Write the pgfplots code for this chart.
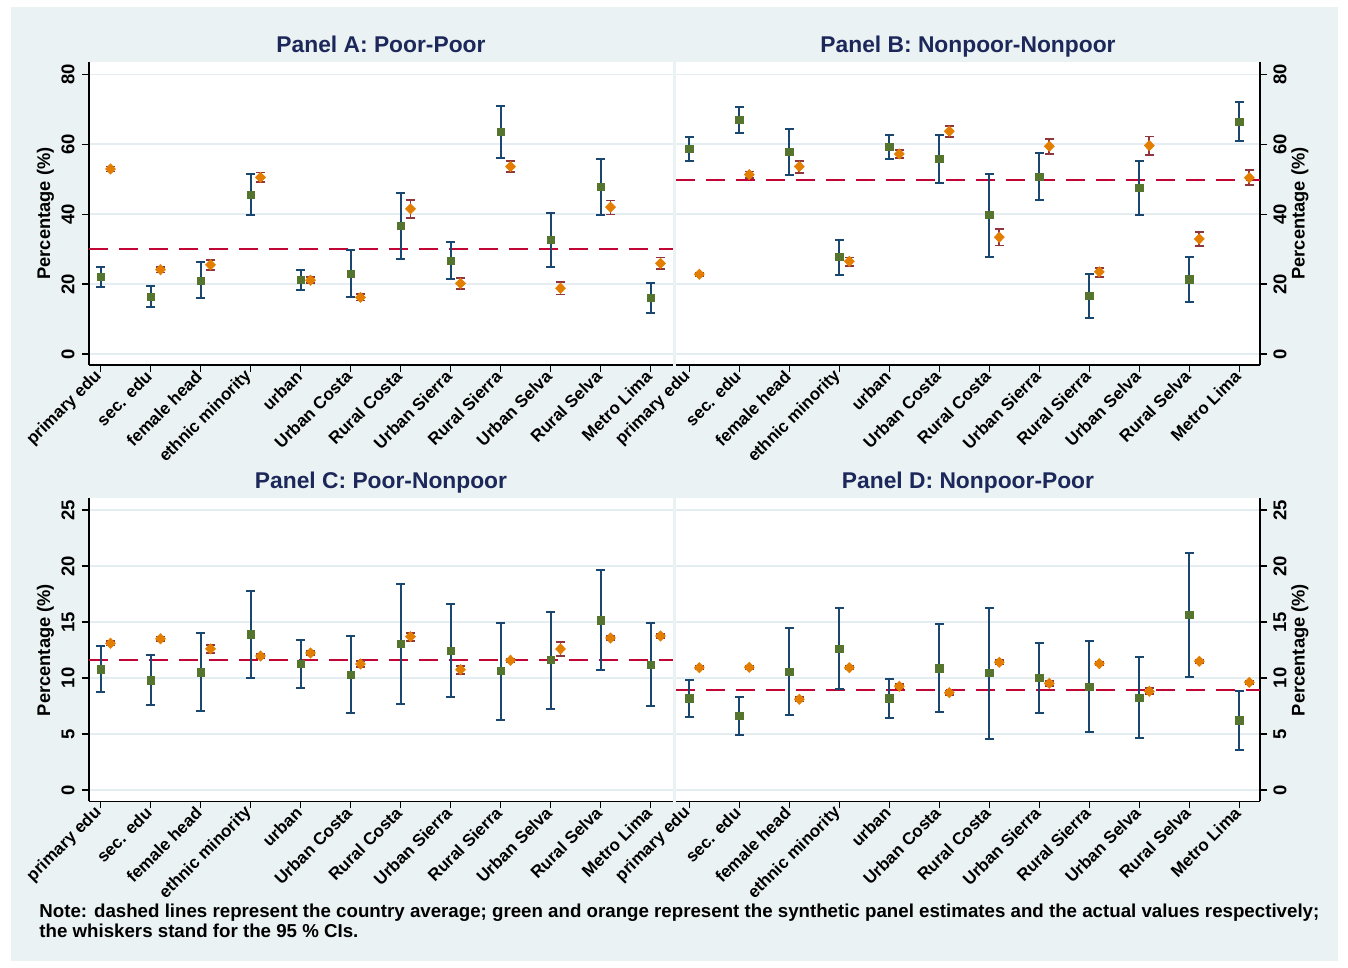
\documentclass[border=0pt]{standalone}
\usepackage{fontspec}
\setmainfont{Liberation Sans}
\usepackage{pgfplots}
\pgfplotsset{compat=1.18}
\usepackage{pgfplotstable}
\definecolor{bgc}{RGB}{234,242,243}
\definecolor{gridc}{RGB}{228,237,241}
\definecolor{navyc}{RGB}{26,71,111}
\definecolor{maroonc}{RGB}{144,53,59}
\definecolor{greenc}{RGB}{85,117,47}
\definecolor{orangec}{RGB}{227,126,0}
\definecolor{cranc}{RGB}{193,5,52}
\definecolor{titc}{RGB}{28,40,90}

\pgfplotstableread{
x gy ghi glo oy ohi olo
0 22.1 25.0 19.2 52.9 53.6 52.2
1 16.4 19.3 13.5 24.1 24.9 23.3
2 21.0 26.2 15.9 25.5 26.9 24.0
3 45.6 51.5 39.8 50.5 51.9 49.2
4 21.1 24.1 18.3 21.1 21.9 20.3
5 22.9 29.6 16.3 16.2 17.1 15.3
6 36.7 46.1 27.3 41.5 44.1 38.9
7 26.6 32.0 21.4 20.2 21.8 18.5
8 63.6 70.9 56.1 53.6 55.1 52.0
9 32.6 40.3 24.9 18.8 20.6 17.0
10 47.8 55.8 39.8 42.0 43.9 39.9
11 16.0 20.2 11.8 25.9 27.6 24.2
}\tabA
\pgfplotstableread{
x gy ghi glo oy ohi olo
0 58.7 62.1 55.3 22.8 23.3 22.3
1 67.0 70.7 63.3 51.3 52.2 50.4
2 57.8 64.3 51.3 53.6 55.3 51.8
3 27.7 32.6 22.7 26.5 27.6 25.2
4 59.3 62.7 55.8 57.2 58.4 56.0
5 55.8 62.5 49.0 63.7 65.3 62.0
6 39.7 51.6 27.7 33.4 35.8 31.0
7 50.7 57.5 44.0 59.4 61.4 57.3
8 16.6 23.0 10.2 23.5 24.7 22.0
9 47.4 55.1 39.8 59.6 62.2 57.0
10 21.3 27.6 15.0 32.9 34.8 30.9
11 66.4 72.0 60.9 50.4 52.7 48.4
}\tabB
\pgfplotstableread{
x gy ghi glo oy ohi olo
0 10.77 12.83 8.78 13.10 13.30 12.90
1 9.79 12.05 7.56 13.50 13.70 13.30
2 10.50 14.00 7.02 12.60 12.98 12.23
3 13.90 17.80 10.03 11.96 12.11 11.81
4 11.25 13.42 9.10 12.23 12.43 12.03
5 10.27 13.72 6.90 11.25 11.50 11.00
6 13.04 18.40 7.68 13.69 14.05 13.30
7 12.44 16.60 8.27 10.74 11.10 10.39
8 10.60 14.90 6.28 11.58 11.73 11.43
9 11.58 15.92 7.23 12.59 13.24 11.93
10 15.15 19.64 10.71 13.57 13.77 13.37
11 11.19 14.90 7.50 13.75 13.95 13.55
}\tabC
\pgfplotstableread{
x gy ghi glo oy ohi olo
0 8.18 9.85 6.52 10.92 11.07 10.77
1 6.61 8.30 4.94 10.95 11.10 10.80
2 10.57 14.49 6.67 8.10 8.30 7.90
3 12.62 16.22 8.99 10.92 11.07 10.77
4 8.18 9.94 6.46 9.26 9.46 9.06
5 10.86 14.85 6.93 8.69 8.89 8.49
6 10.42 16.28 4.58 11.40 11.60 11.20
7 10.00 13.15 6.85 9.52 9.72 9.32
8 9.20 13.27 5.21 11.28 11.43 11.13
9 8.24 11.85 4.64 8.81 9.08 8.54
10 15.60 21.13 10.09 11.49 11.64 11.34
11 6.22 8.84 3.60 9.61 9.76 9.46
}\tabD

\pgfplotsset{
 base/.style={
   scale only axis, width=292pt, height=151.5pt,
   axis background/.style={fill=white},
   axis x line*=bottom,
   axis line style={black, line width=0.6pt},
   tick align=outside, major tick length=3.5pt,
   tick style={black, line width=0.6pt},
   xtick={0,...,11},
   xticklabels={primary edu, sec. edu, female head, ethnic minority, urban, Urban Costa, Rural Costa, Urban Sierra, Rural Sierra, Urban Selva, Rural Selva, Metro Lima},
   xticklabel style={rotate=45, anchor=east, inner sep=1pt, font=\fontsize{8.5}{10}\selectfont\bfseries},
   ymajorgrids, grid style={gridc, line width=0.7pt},
   /pgf/number format/assume math mode=true,
   ylabel={Percentage (\%)},
   ylabel style={font=\fontsize{9.15}{10}\selectfont\bfseries, anchor=center},
   every axis title shift=0pt,
   title style={at={(0.5,1)}, anchor=base, yshift=4.85pt, font=\fontsize{11.4}{14}\selectfont\bfseries, text=titc},
   clip=false,
 },
 leftp/.style={base, xmin=-0.23, xmax=11.45, axis y line*=left,
   yticklabel style={rotate=90, anchor=south, inner sep=1pt, font=\fontsize{9.25}{10}\selectfont\bfseries},
   yticklabel shift=2.5pt,
   ylabel style={at={(axis description cs:-0.0745,0.5)}}},
 rightp/.style={base, xmin=-0.266, xmax=11.414, axis y line*=right,
   yticklabel style={rotate=90, anchor=north, inner sep=1pt, font=\fontsize{9.25}{10}\selectfont\bfseries},
   yticklabel shift=2pt,
   ylabel style={at={(axis description cs:1.0685,0.5)}}},
 toprow/.style={ymin=-3.15, ymax=83.5, ytick={0,20,40,60,80}},
 botrow/.style={ymin=-1.03, ymax=26.03, ytick={0,5,10,15,20,25}},
 avgline/.style={cranc, line width=1pt, dash pattern=on 9.5pt off 5.5pt, forget plot},
 gci/.style={forget plot, draw=none, error bars/.cd, y dir=both, y explicit,
   error bar style={draw=navyc, line width=1pt, solid},
   error mark options={rotate=90, draw=navyc, line width=1pt, mark size=2.2pt}},
 oci/.style={forget plot, draw=none, error bars/.cd, y dir=both, y explicit,
   error bar style={draw=maroonc, line width=0.9pt, solid},
   error mark options={rotate=90, draw=maroonc, line width=0.9pt, mark size=2.2pt}},
 gmark/.style={only marks, mark=square*, mark size=1.8pt, mark options={fill=greenc, draw=greenc}},
 omark/.style={only marks, mark=diamond*, mark size=2.5pt, mark options={fill=orangec, draw=orangec, xscale=1.3}},
}

\newcommand{\panelplots}[1]{%
 \addplot[gci] table[x=x, y=gy, y error plus expr=\thisrow{ghi}-\thisrow{gy}, y error minus expr=\thisrow{gy}-\thisrow{glo}] {#1};
 \addplot[gmark] table[x=x, y=gy] {#1};
 \addplot[oci] table[x expr=\thisrow{x}+0.2, y=oy, y error plus expr=\thisrow{ohi}-\thisrow{oy}, y error minus expr=\thisrow{oy}-\thisrow{olo}] {#1};
 \addplot[omark] table[x expr=\thisrow{x}+0.2, y=oy] {#1};
}

\begin{document}
\bfseries
\begin{tikzpicture}
\useasboundingbox (0,0) rectangle (674pt,484pt);
\fill[white] (0,0) rectangle (674pt,484pt);
\fill[bgc] (5.5pt,3.5pt) rectangle (669pt,480.5pt);

\begin{axis}[leftp, toprow, at={(44.5pt,301.5pt)}, anchor=south west, title={Panel A: Poor-Poor}]
 \addplot[avgline] coordinates {(-0.23,30) (11.45,30)};
 \panelplots{\tabA}
\end{axis}

\begin{axis}[rightp, toprow, at={(338pt,301.5pt)}, anchor=south west, title={Panel B: Nonpoor-Nonpoor}]
 \addplot[avgline] coordinates {(-0.266,49.8) (11.414,49.8)};
 \panelplots{\tabB}
\end{axis}

\begin{axis}[leftp, botrow, at={(44.5pt,83.25pt)}, anchor=south west, title={Panel C: Poor-Nonpoor}]
 \addplot[avgline] coordinates {(-0.23,11.6) (11.45,11.6)};
 \panelplots{\tabC}
\end{axis}

\begin{axis}[rightp, botrow, at={(338pt,83.25pt)}, anchor=south west, title={Panel D: Nonpoor-Poor}]
 \addplot[avgline] coordinates {(-0.266,8.9) (11.414,8.9)};
 \panelplots{\tabD}
\end{axis}

\node[anchor=base west, inner sep=0pt, font=\fontsize{9.35}{11}\selectfont\bfseries] at (19.5pt,25pt) {Note: dashed lines represent the country average; green and orange represent the synthetic panel estimates and the actual values respectively;};
\node[anchor=base west, inner sep=0pt, font=\fontsize{9.35}{11}\selectfont\bfseries] at (19.5pt,15pt) {the whiskers stand for the 95 \% CIs.};
\end{tikzpicture}
\end{document}
